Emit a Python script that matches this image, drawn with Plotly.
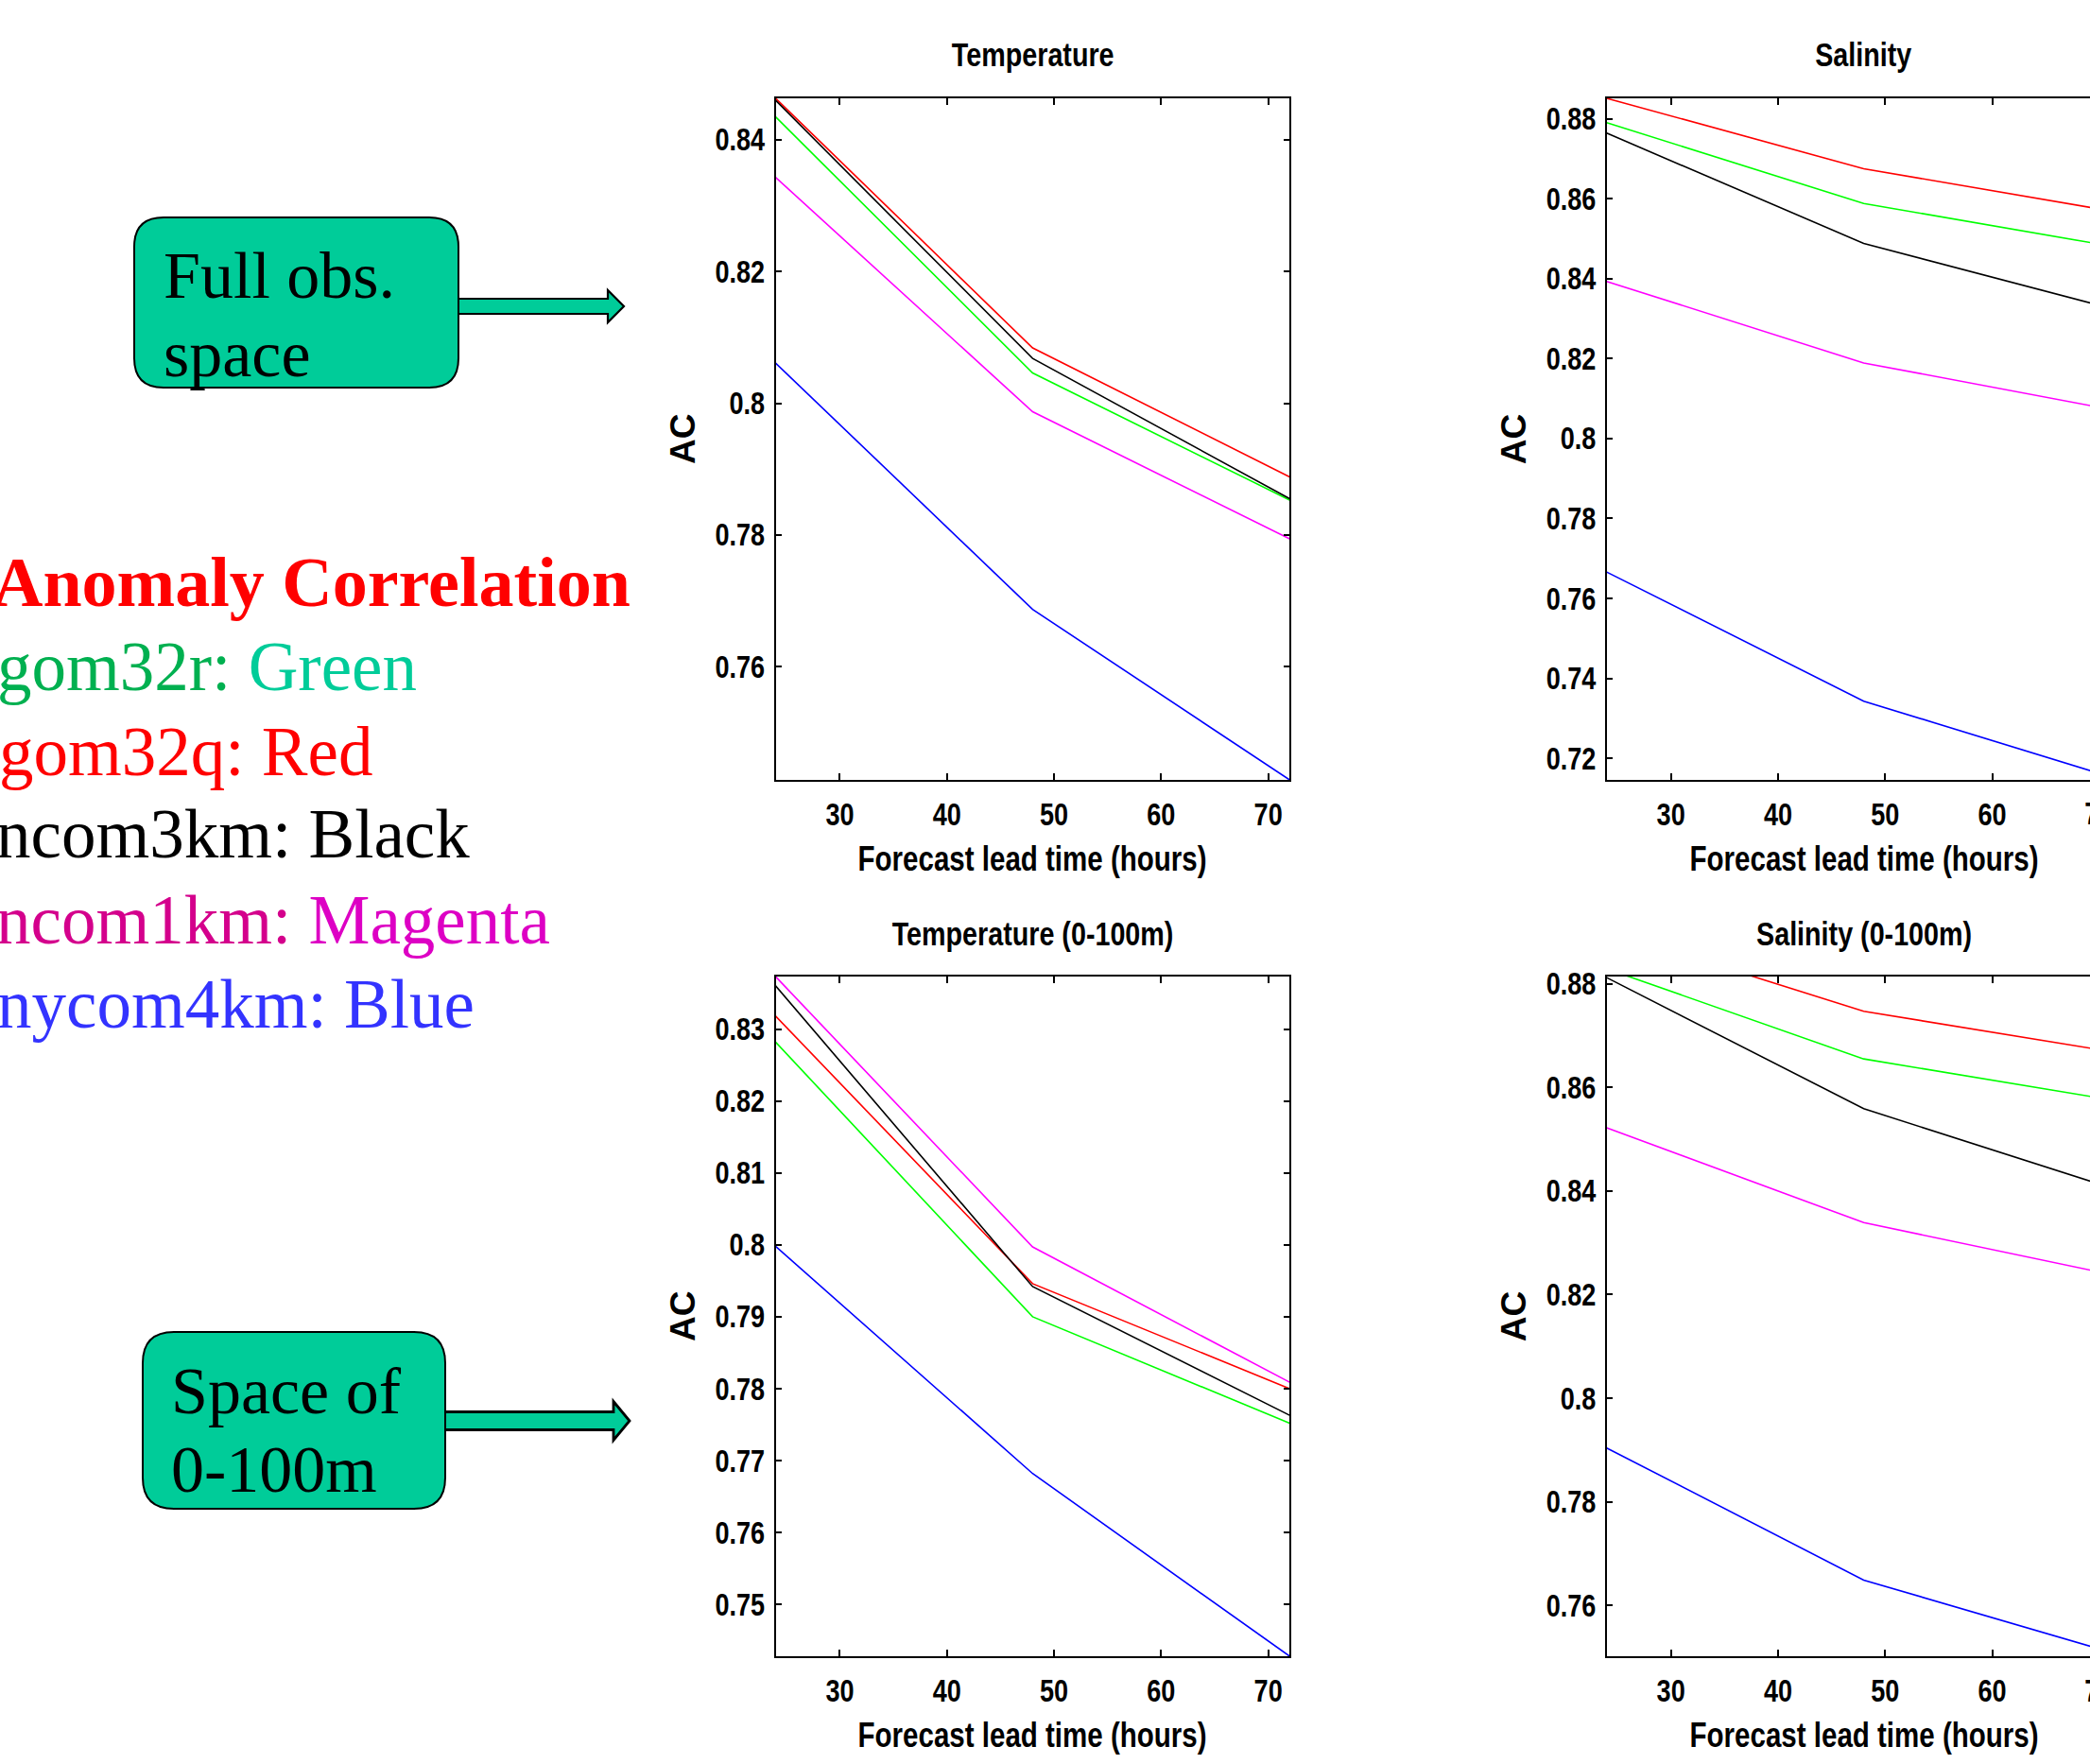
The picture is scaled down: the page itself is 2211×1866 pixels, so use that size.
import plotly.graph_objects as go

# ---------------- data ----------------
lead_hours = [24, 48, 72]
x_ticks = [30, 40, 50, 60, 70]

# Anomaly correlation, full observation space
temp_green = [0.8435, 0.8046, 0.7853]
temp_red = [0.8463, 0.8084, 0.7888]
temp_black = [0.8460, 0.8068, 0.7855]
temp_magenta = [0.8343, 0.7987, 0.7794]
temp_blue = [0.8061, 0.7687, 0.7428]

sal_green = [0.8790, 0.8588, 0.8477]
sal_red = [0.8851, 0.8675, 0.8565]
sal_black = [0.8764, 0.8488, 0.8319]
sal_magenta = [0.8393, 0.8189, 0.8068]
sal_blue = [0.7666, 0.7343, 0.7146]

# Anomaly correlation, 0-100 m
temp100_green = [0.8282, 0.7900, 0.7752]
temp100_red = [0.8318, 0.7946, 0.7800]
temp100_black = [0.8360, 0.7942, 0.7763]
temp100_magenta = [0.8373, 0.7997, 0.7809]
temp100_blue = [0.7998, 0.7682, 0.7428]

sal100_green = [0.8829, 0.8655, 0.8573]
sal100_red = [0.8903, 0.8747, 0.8666]
sal100_black = [0.8812, 0.8559, 0.8400]
sal100_magenta = [0.8522, 0.8339, 0.8235]
sal100_blue = [0.7904, 0.7649, 0.7504]

temp_yticks = [0.76, 0.78, 0.80, 0.82, 0.84]
sal_yticks = [0.72, 0.74, 0.76, 0.78, 0.80, 0.82, 0.84, 0.86, 0.88]
temp100_yticks = [0.75, 0.76, 0.77, 0.78, 0.79, 0.80, 0.81, 0.82, 0.83]
sal100_yticks = [0.76, 0.78, 0.80, 0.82, 0.84, 0.86, 0.88]

# ---------------- geometry / style ----------------
W, H = 2211, 1866
PANEL_W = 543.8
COL_LEFT = [820.5, 1699.7]
ROW_TB = [(104, 825), (1033, 1752)]

# axis text is drawn narrow (condensed in the page script below)
AX_FONT = "Arimo, Liberation Sans, Arial, sans-serif"
AC_FONT = "Arial, Liberation Sans, sans-serif"
SERIF = "Liberation Serif, Times New Roman, serif"
COLORS = {"green": "#00FF00", "red": "#FF0000", "black": "#000000",
          "magenta": "#FF00FF", "blue": "#0000FF"}
BOX_FILL = "#00CC99"


def fx(x):
    return x / W


def fy(y):
    return 1 - y / H


def tick_text(v):
    return f"{v:.2f}".rstrip("0")


panels = [
    dict(title="Temperature", row=0, col=0, yr=[0.7428, 0.8463], yt=temp_yticks,
         series=dict(green=temp_green, red=temp_red, black=temp_black,
                     magenta=temp_magenta, blue=temp_blue)),
    dict(title="Salinity", row=0, col=1, yr=[0.7146, 0.8851], yt=sal_yticks,
         series=dict(green=sal_green, red=sal_red, black=sal_black,
                     magenta=sal_magenta, blue=sal_blue)),
    dict(title="Temperature (0-100m)", row=1, col=0, yr=[0.7428, 0.8373], yt=temp100_yticks,
         series=dict(green=temp100_green, red=temp100_red, black=temp100_black,
                     magenta=temp100_magenta, blue=temp100_blue)),
    dict(title="Salinity (0-100m)", row=1, col=1, yr=[0.7502, 0.8814], yt=sal100_yticks,
         series=dict(green=sal100_green, red=sal100_red, black=sal100_black,
                     magenta=sal100_magenta, blue=sal100_blue)),
]

fig = go.Figure()
annotations = []
layout_axes = {}

for i, p in enumerate(panels, start=1):
    left = COL_LEFT[p["col"]]
    right_full = left + PANEL_W
    right = min(right_full, W)
    top, bottom = ROW_TB[p["row"]]
    x_max = 24 + 48 * (right - left) / PANEL_W
    clipped = right < right_full
    sfx = "" if i == 1 else str(i)

    for name in ["green", "red", "black", "magenta", "blue"]:
        fig.add_trace(go.Scatter(
            x=lead_hours, y=p["series"][name], mode="lines",
            line=dict(color=COLORS[name], width=1.6),
            xaxis="x" + sfx, yaxis="y" + sfx, showlegend=False,
            hoverinfo="skip"))

    common = dict(showgrid=False, zeroline=False, showline=True, linecolor="black",
                  linewidth=1.5, ticks="inside", ticklen=7, tickwidth=1.5,
                  tickcolor="black", automargin=False,
                  tickfont=dict(family=AX_FONT, size=33, color="black", weight="bold"))
    shown_x = [t for t in x_ticks if t <= x_max]
    layout_axes["xaxis" + sfx] = dict(
        common, domain=[fx(left), fx(right)], range=[24, x_max],
        tickvals=shown_x, ticktext=[str(t) for t in shown_x],
        mirror="allticks", anchor="y" + sfx, ticklabelstandoff=7)
    layout_axes["yaxis" + sfx] = dict(
        common, domain=[fy(bottom), fy(top)], range=p["yr"],
        tickvals=p["yt"], ticktext=[tick_text(v) for v in p["yt"]],
        mirror=False if clipped else "allticks", anchor="x" + sfx,
        ticklabelstandoff=3)

    cx = (left + right_full) / 2
    # panel title
    annotations.append(dict(text="<b>%s</b>" % p["title"], x=fx(cx), y=fy(top - 46),
                            xref="paper", yref="paper", showarrow=False,
                            xanchor="center", yanchor="middle",
                            font=dict(family=AX_FONT, size=35, color="black")))
    # x axis title
    annotations.append(dict(text="<b>Forecast lead time (hours)</b>", x=fx(cx),
                            y=fy(bottom + 83), xref="paper", yref="paper",
                            showarrow=False, xanchor="center", yanchor="middle",
                            font=dict(family=AX_FONT, size=36, color="black")))
    # y axis title
    annotations.append(dict(text="<b>AC</b>", x=fx(left - 98), y=fy((top + bottom) / 2),
                            xref="paper", yref="paper", showarrow=False, textangle=-90,
                            xanchor="center", yanchor="middle",
                            font=dict(family=AC_FONT, size=37, color="black")))
    if clipped:
        # the 70 tick label runs past the right edge of the page
        annotations.append(dict(text="<b>70</b>", x=fx(left + 46 * PANEL_W / 48),
                                y=fy(bottom + 36), xref="paper", yref="paper",
                                showarrow=False, xanchor="center", yanchor="middle",
                                font=dict(family=AX_FONT, size=33, color="black")))

# ---------------- left-hand legend text ----------------
legend_lines = [
    ("<b>Anomaly Correlation</b>", 641, 74, -10),
    ("<span style='color:#00B050'>gom32r: </span><span style='color:#00CC99'>Green</span>", 730, 73, -5),
    ("<span style='color:#FF0000'>gom32q: Red</span>", 820, 73, -3),
    ("<span style='color:#000000'>ncom3km: Black</span>", 907, 73, -6),
    ("<span style='color:#D4008C'>ncom1km: </span><span style='color:#DD00C4'>Magenta</span>", 998, 73, -6),
    ("<span style='color:#3333FF'>nycom4km: Blue</span>", 1087, 73, -5),
]
for txt, base, size, x0 in legend_lines:
    annotations.append(dict(text=txt, x=fx(x0), y=fy(base - 0.3375 * size),
                            xref="paper", yref="paper", showarrow=False,
                            xanchor="left", yanchor="middle",
                            font=dict(family=SERIF, size=size, color="#FF0000")))

box_texts = [("Full obs.", 173, 315), ("space", 173, 398),
             ("Space of", 181, 1495), ("0-100m", 181, 1578)]
for txt, x0, base in box_texts:
    annotations.append(dict(text=txt, x=fx(x0 - 2), y=fy(base - 0.3375 * 70),
                            xref="paper", yref="paper", showarrow=False,
                            xanchor="left", yanchor="middle",
                            font=dict(family=SERIF, size=70, color="black")))


# ---------------- boxes and arrows ----------------
def pt(x, y):
    return f"{fx(x):.5f},{fy(y):.5f}"


def rounded_box(x0, y0, x1, y1, r):
    return (f"M {pt(x0 + r, y0)} L {pt(x1 - r, y0)} Q {pt(x1, y0)} {pt(x1, y0 + r)} "
            f"L {pt(x1, y1 - r)} Q {pt(x1, y1)} {pt(x1 - r, y1)} "
            f"L {pt(x0 + r, y1)} Q {pt(x0, y1)} {pt(x0, y1 - r)} "
            f"L {pt(x0, y0 + r)} Q {pt(x0, y0)} {pt(x0 + r, y0)} Z")


def block_arrow(x0, yc, xh, xt, h, hh):
    return (f"M {pt(x0, yc - h / 2)} L {pt(xh, yc - h / 2)} L {pt(xh, yc - hh / 2)} "
            f"L {pt(xt, yc)} L {pt(xh, yc + hh / 2)} L {pt(xh, yc + h / 2)} "
            f"L {pt(x0, yc + h / 2)} Z")


shapes = [
    dict(type="path", path=block_arrow(480, 324, 643, 660, 16, 34), xref="paper",
         yref="paper", fillcolor=BOX_FILL, line=dict(color="black", width=2.2)),
    dict(type="path", path=block_arrow(466, 1503, 649, 666, 19, 41), xref="paper",
         yref="paper", fillcolor=BOX_FILL, line=dict(color="black", width=2.8)),
    dict(type="path", path=rounded_box(142, 230, 485, 410, 31), xref="paper",
         yref="paper", fillcolor=BOX_FILL, line=dict(color="black", width=2)),
    dict(type="path", path=rounded_box(151, 1409, 471, 1596, 33), xref="paper",
         yref="paper", fillcolor=BOX_FILL, line=dict(color="black", width=2)),
]

fig.update_layout(
    width=W, height=H, autosize=False,
    margin=dict(l=0, r=0, t=0, b=0, pad=0, autoexpand=False),
    paper_bgcolor="white", plot_bgcolor="white",
    showlegend=False,
    annotations=annotations, shapes=shapes,
    **layout_axes,
)

# Page script: drop the default body margin and render the axis lettering
# in a narrow (condensed) width.
page_script = """
document.body.style.margin = '0px';
var gd = document.getElementById('{plot_id}');
gd.querySelectorAll('text').forEach(function (t) {
    var ff = t.style.fontFamily || '';
    if (ff.indexOf('Arimo') >= 0) {
        var w = t.getComputedTextLength();
        if (w > 0) {
            t.setAttribute('textLength', (w * 0.82).toFixed(2));
            t.setAttribute('lengthAdjust', 'spacingAndGlyphs');
        }
    }
});
"""

fig.write_html("out.html", post_script=page_script)
